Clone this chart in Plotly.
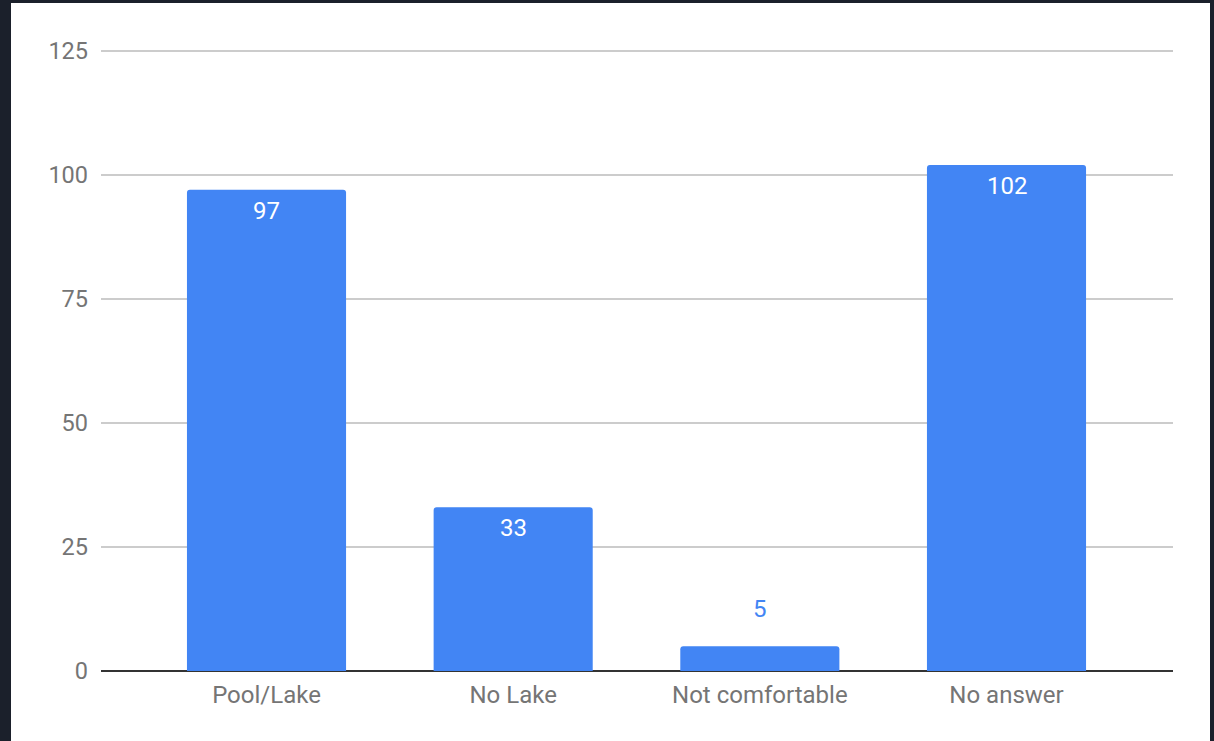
import plotly.graph_objects as go

categories = ["Pool/Lake", "No Lake", "Not comfortable", "No answer"]
values = [97, 33, 5, 102]
y_ticks = [0, 25, 50, 75, 100, 125]

BLUE = "#4285F4"
W, H = 1214, 741
ML, MR, MT, MB = 101, 41, 46, 70
PW, PH = W - ML - MR, H - MT - MB

fig = go.Figure()
fig.add_trace(go.Bar(
    x=list(range(len(categories))),
    y=values,
    marker=dict(color=BLUE, line=dict(width=0)),
    width=0.645,
    hoverinfo="x+y",
))

annotations = []
for i, v in enumerate(values):
    inside = v > 15
    annotations.append(dict(
        x=i, y=v, xref="x", yref="y", text=str(v), showarrow=False,
        yanchor="middle", yshift=-21 if inside else 37,
        font=dict(family="Roboto", size=24, weight=400,
                  color="white" if inside else BLUE),
    ))

fig.update_layout(
    width=W, height=H,
    margin=dict(l=ML, r=MR, t=MT, b=MB, pad=0),
    paper_bgcolor="#1b202b",
    plot_bgcolor="white",
    barcornerradius=3,
    showlegend=False,
    font=dict(family="Roboto", size=22, color="#757575"),
    annotations=annotations,
    shapes=[dict(
        type="rect", xref="paper", yref="paper", layer="below",
        x0=(11 - ML) / PW, x1=(1210 - ML) / PW,
        y0=-0.3, y1=(H - MB - 3) / PH,
        fillcolor="white", line=dict(width=0),
    )],
    xaxis=dict(
        range=[-0.671, 3.675],
        tickmode="array",
        tickvals=list(range(len(categories))),
        ticktext=categories,
        showgrid=False, zeroline=False, showline=False,
        ticks="", ticklabelstandoff=7,
        tickfont=dict(family="Roboto", size=24, color="#757575"),
    ),
    yaxis=dict(
        range=[0, 126],
        tickmode="array", tickvals=y_ticks,
        showgrid=True, gridcolor="#cccccc", gridwidth=1.5,
        zeroline=True, zerolinecolor="#333333", zerolinewidth=2,
        showline=False, ticks="", ticklabelstandoff=12,
        tickfont=dict(family="Roboto", size=23.5, color="#757575"),
    ),
)

fig.write_html("out.html",
               config={"displayModeBar": False},
               post_script="document.body.style.margin='0';document.body.style.overflow='hidden';")
